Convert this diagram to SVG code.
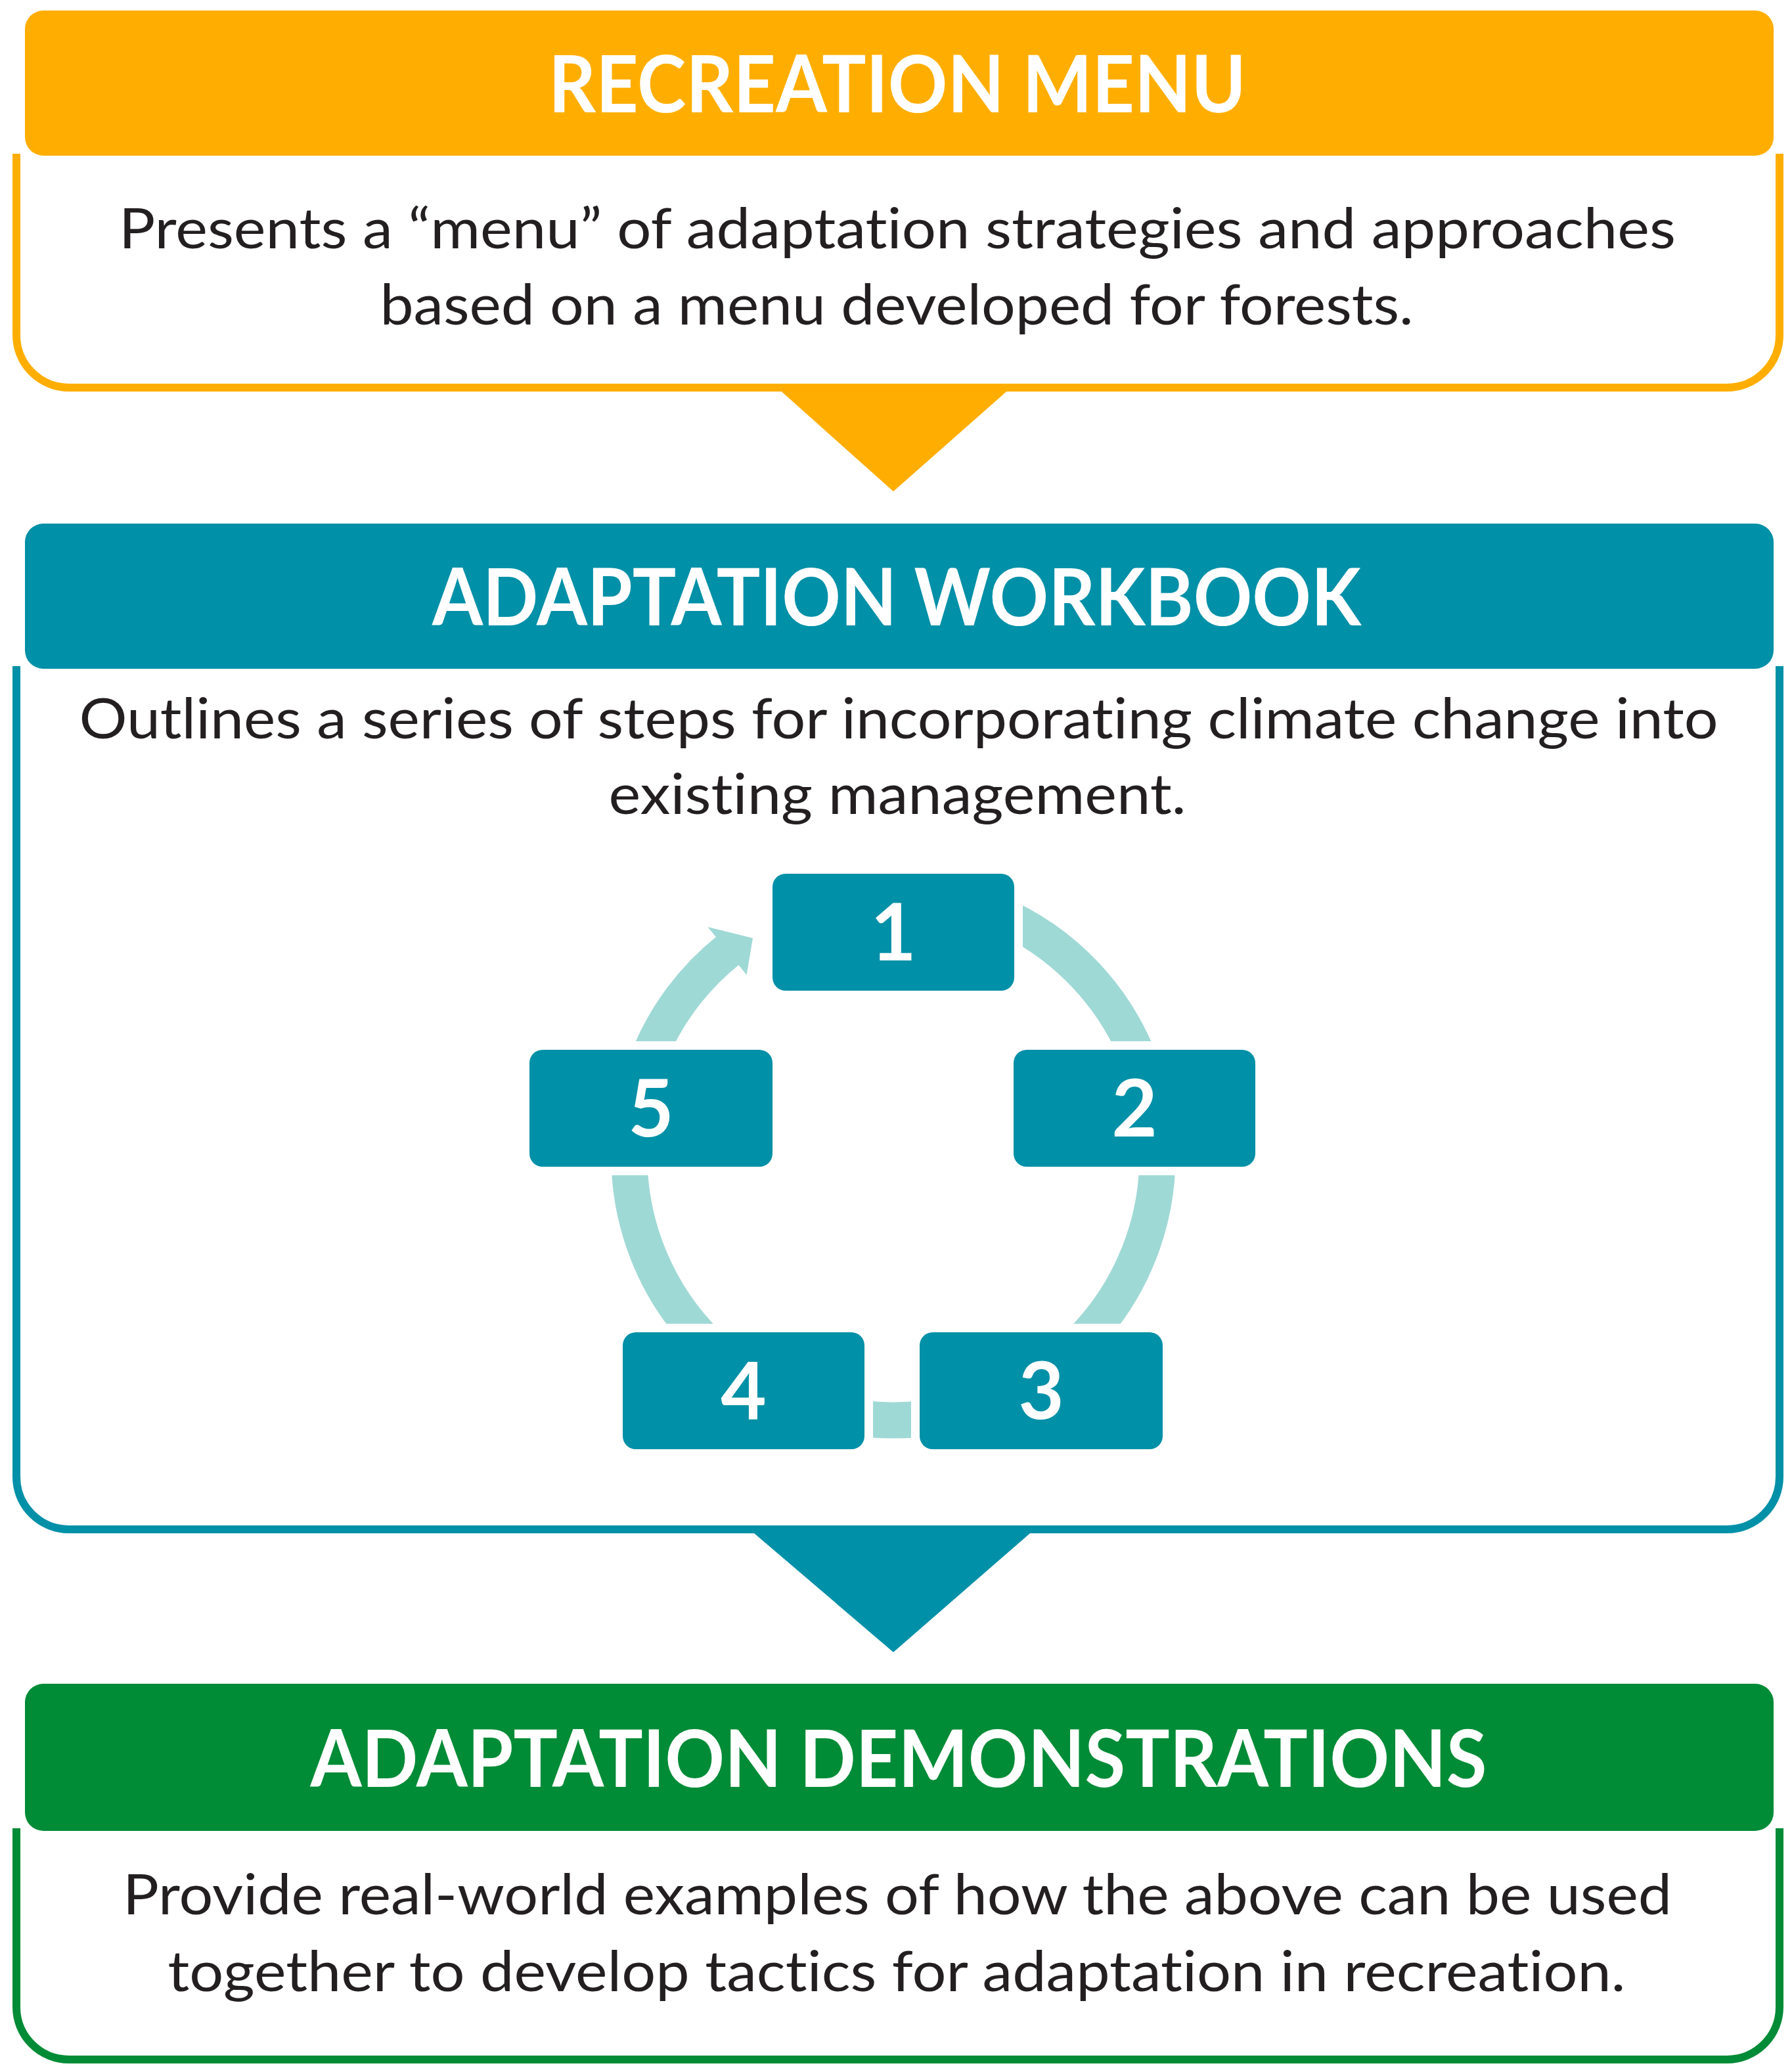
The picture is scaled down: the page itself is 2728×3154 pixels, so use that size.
<svg xmlns="http://www.w3.org/2000/svg" width="2728" height="3154" viewBox="0 0 2728 3154">
<style>
text{font-variant-ligatures:none;font-feature-settings:"liga" 0,"clig" 0}
.title{font-family:Lato,"Liberation Sans",sans-serif;font-weight:bold;font-size:121px;fill:#ffffff;text-anchor:middle}
.body{font-family:Lato,"Liberation Sans",sans-serif;font-size:86px;fill:#231f20;text-anchor:middle}
.num{font-family:Lato,"Liberation Sans",sans-serif;font-weight:bold;font-size:120px;fill:#ffffff;text-anchor:middle}
.outline{fill:none;stroke-width:12}
.arc{fill:none;stroke:#9fd9d6;stroke-width:55}
.step{fill:#0090a7}
</style>
<defs>
<mask id="gaps" maskUnits="userSpaceOnUse" x="0" y="0" width="2728" height="3154">
<rect x="0" y="0" width="2728" height="3154" fill="#fff"/>
<rect x="1163" y="1317" width="394" height="204" rx="30" fill="#000"/>
<rect x="1530" y="1585" width="394" height="204" rx="30" fill="#000"/>
<rect x="793" y="1585" width="396" height="204" rx="30" fill="#000"/>
<rect x="935" y="2015" width="394" height="204" rx="30" fill="#000"/>
<rect x="1387" y="2015" width="396" height="204" rx="30" fill="#000"/>
</mask>
</defs>
<rect width="2728" height="3154" fill="#ffffff"/>

<g id="recreation-menu">
<path class="outline" stroke="#ffae00" d="M25,234 V510 A80,80 0 0 0 105,590 H2629 A80,80 0 0 0 2709,510 V234"/>
<rect x="38" y="16" width="2662" height="221" rx="28" fill="#ffae00"/>
<text class="title" x="1366" y="171" textLength="1062" lengthAdjust="spacingAndGlyphs">RECREATION MENU</text>
<text class="body" x="1366" y="378" textLength="2370" lengthAdjust="spacingAndGlyphs">Presents a “menu” of adaptation strategies and approaches</text>
<text class="body" x="1365" y="494" textLength="1573" lengthAdjust="spacingAndGlyphs">based on a menu developed for forests.</text>
</g>

<g id="adaptation-workbook">
<path class="outline" stroke="#0090a7" d="M25,1014 V2248 A80,80 0 0 0 105,2328 H2629 A80,80 0 0 0 2709,2248 V1014"/>
<rect x="38" y="797" width="2662" height="221" rx="28" fill="#0090a7"/>
<text class="title" x="1365" y="952" textLength="1414" lengthAdjust="spacingAndGlyphs">ADAPTATION WORKBOOK</text>
<text class="body" x="1368" y="1124" textLength="2495" lengthAdjust="spacingAndGlyphs">Outlines a series of steps for incorporating climate change into</text>
<text class="body" x="1366" y="1239" textLength="879" lengthAdjust="spacingAndGlyphs">existing management.</text>
</g>

<g id="adaptation-demonstrations">
<path class="outline" stroke="#008b36" d="M25,2783 V3055 A80,80 0 0 0 105,3135 H2629 A80,80 0 0 0 2709,3055 V2783"/>
<rect x="38" y="2563" width="2662" height="224" rx="28" fill="#008b36"/>
<text class="title" x="1368" y="2720" textLength="1791" lengthAdjust="spacingAndGlyphs">ADAPTATION DEMONSTRATIONS</text>
<text class="body" x="1366" y="2914" textLength="2358" lengthAdjust="spacingAndGlyphs">Provide real-world examples of how the above can be used</text>
<text class="body" x="1365" y="3031" textLength="2219" lengthAdjust="spacingAndGlyphs">together to develop tactics for adaptation in recreation.</text>
</g>

<g id="connectors">
<polygon points="1183,590 1539,590 1360,748" fill="#ffae00"/>
<polygon points="1141,2328 1575,2328 1360,2515" fill="#0090a7"/>
<g mask="url(#gaps)">
<path class="arc" d="M1510.6,1387.3 A402,402 0 0 1 1742.3,1635.8"/>
<path class="arc" d="M1761.8,1746 A402,402 0 0 1 1644.3,2044.3"/>
<path class="arc" d="M1429.8,2155.9 A402,402 0 0 1 1290.2,2155.9"/>
<path class="arc" d="M1075.7,2044.3 A402,402 0 0 1 958.2,1746"/>
<path class="arc" d="M977.7,1635.8 A402,402 0 0 1 1109.8,1445.4"/>
<polygon points="1077.4,1411.1 1146,1428 1136.6,1484.1" fill="#9fd9d6"/>
</g>
</g>

<g id="step-1"><rect class="step" x="1176" y="1330" width="368" height="178" rx="20"/><text class="num" x="1360" y="1462">1</text></g>
<g id="step-2"><rect class="step" x="1543" y="1598" width="368" height="178" rx="20"/><text class="num" x="1727" y="1730">2</text></g>
<g id="step-3"><rect class="step" x="1400" y="2028" width="370" height="178" rx="20"/><text class="num" x="1585" y="2160">3</text></g>
<g id="step-4"><rect class="step" x="948" y="2028" width="368" height="178" rx="20"/><text class="num" x="1132" y="2160">4</text></g>
<g id="step-5"><rect class="step" x="806" y="1598" width="370" height="178" rx="20"/><text class="num" x="991" y="1730">5</text></g>
</svg>
